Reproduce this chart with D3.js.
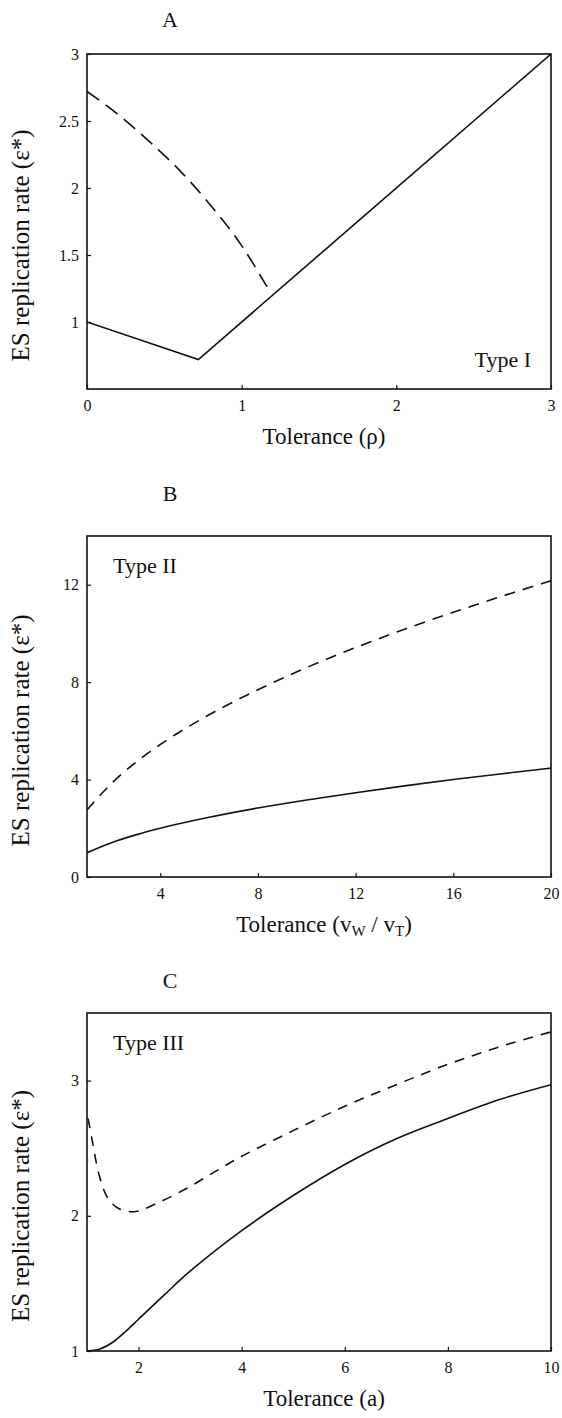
<!DOCTYPE html>
<html>
<head>
<meta charset="utf-8">
<script src="https://cdn.jsdelivr.net/npm/d3@7"></script>
<style>
  html, body { margin: 0; padding: 0; background: #fff; }
  svg { display: block; }
  text { font-family: "Liberation Serif", "Times New Roman", serif; fill: #111; }
</style>
</head>
<body>
<svg id="chart" width="562" height="1418"></svg>
<script>
// ---------- data ----------
const panelLetters = ["A", "B", "C"];
const typeLabels = ["Type I", "Type II", "Type III"];
const yTitle = "ES replication rate (\u03b5*)";

// Panel A: Type I
const aXTicks = [0, 1, 2, 3];
const aYTicks = [1, 1.5, 2, 2.5, 3];
const aSolidX = [0, 0.72, 3];
const aSolidY = [1, 0.72, 3];
const aDashX = [0, 0.2, 0.4, 0.6, 0.8, 1.0, 1.18];
const aDashY = [2.72, 2.55, 2.35, 2.13, 1.87, 1.57, 1.23];

// Panel B: Type II
const bXTicks = [4, 8, 12, 16, 20];
const bYTicks = [0, 4, 8, 12];
const bX = [1, 2, 3, 4, 6, 8, 10, 12, 14, 16, 18, 20];
const bSolidY = [1, 1.41, 1.73, 2, 2.45, 2.83, 3.16, 3.46, 3.74, 4, 4.24, 4.47];
const bDashY = [2.75, 3.84, 4.71, 5.44, 6.66, 7.69, 8.6, 9.42, 10.17, 10.87, 11.53, 12.16];

// Panel C: Type III
const cXTicks = [2, 4, 6, 8, 10];
const cYTicks = [1, 2, 3];
const cSolidX = [1, 1.25, 1.5, 1.75, 2, 2.5, 3, 4, 5, 6, 7, 8, 9, 10];
const cSolidY = [1, 1.015, 1.065, 1.145, 1.235, 1.415, 1.59, 1.89, 2.15, 2.38, 2.57, 2.72, 2.86, 2.97];
const cDashX = [1.02, 1.1, 1.23, 1.39, 1.59, 1.91, 2.34, 2.92, 3.5, 4, 5, 6, 7, 8, 9, 10];
const cDashY = [2.72, 2.56, 2.31, 2.14, 2.06, 2.03, 2.09, 2.2, 2.33, 2.44, 2.63, 2.81, 2.97, 3.12, 3.25, 3.36];

// ---------- layout ----------
const svg = d3.select("#chart");
const left = 87, right = 551;

const panels = [
  { letter: panelLetters[0], type: typeLabels[0], top: 54, bottom: 389, letterOff: 27,
    xDomain: [0, 3], yDomain: [0.5, 3], xTicks: aXTicks, yTicks: aYTicks,
    series: [
      { x: aSolidX, y: aSolidY, dash: null, curve: d3.curveLinear },
      { x: aDashX, y: aDashY, dash: "15,8", curve: d3.curveMonotoneX }
    ],
    typePos: "br" },
  { letter: panelLetters[1], type: typeLabels[1], top: 536, bottom: 877, letterOff: 35,
    xDomain: [1, 20], yDomain: [0, 14], xTicks: bXTicks, yTicks: bYTicks,
    series: [
      { x: bX, y: bSolidY, dash: null, curve: d3.curveMonotoneX },
      { x: bX, y: bDashY, dash: "11,8", curve: d3.curveMonotoneX }
    ],
    typePos: "tl" },
  { letter: panelLetters[2], type: typeLabels[2], top: 1013, bottom: 1351, letterOff: 25,
    xDomain: [1, 10], yDomain: [1, 3.5], xTicks: cXTicks, yTicks: cYTicks,
    series: [
      { x: cSolidX, y: cSolidY, dash: null, curve: d3.curveCatmullRom },
      { x: cDashX, y: cDashY, dash: "10,8", curve: d3.curveCatmullRom }
    ],
    typePos: "tl" }
];

panels.forEach((p, i) => {
  const x = d3.scaleLinear().domain(p.xDomain).range([left, right]);
  const y = d3.scaleLinear().domain(p.yDomain).range([p.bottom, p.top]);
  const g = svg.append("g");

  const clipId = "clip" + i;
  svg.append("clipPath").attr("id", clipId).append("rect")
    .attr("x", left).attr("y", p.top).attr("width", right - left).attr("height", p.bottom - p.top);

  p.series.forEach(s => {
    const pts = s.x.map((v, k) => [v, s.y[k]]);
    g.append("path")
      .attr("clip-path", `url(#${clipId})`)
      .attr("d", d3.line().x(d => x(d[0])).y(d => y(d[1])).curve(s.curve)(pts))
      .attr("fill", "none").attr("stroke", "#111").attr("stroke-width", 1.6)
      .attr("stroke-dasharray", s.dash);
  });

  const xAxis = d3.axisBottom(x).tickValues(p.xTicks).tickSize(-4).tickPadding(11).tickFormat(d3.format("~g"));
  const yAxis = d3.axisLeft(y).tickValues(p.yTicks).tickSize(-4).tickPadding(8).tickFormat(d3.format("~g"));
  const gx = g.append("g").attr("transform", `translate(0,${p.bottom})`).call(xAxis);
  const gy = g.append("g").attr("transform", `translate(${left},0)`).call(yAxis);
  [gx, gy].forEach(a => {
    a.select(".domain").remove();
    a.selectAll(".tick line").attr("stroke", "#111").attr("stroke-width", 1.2);
    a.selectAll("text").attr("font-size", 16).attr("font-family", "Liberation Serif").attr("fill", "#111");
  });

  g.append("rect").attr("x", left).attr("y", p.top)
    .attr("width", right - left).attr("height", p.bottom - p.top)
    .attr("fill", "none").attr("stroke", "#111").attr("stroke-width", 1.6);

  g.append("text").attr("x", 170).attr("y", p.top - p.letterOff)
    .attr("text-anchor", "middle").attr("font-size", 22).text(p.letter);

  if (p.typePos === "br") {
    g.append("text").attr("x", right - 20).attr("y", p.bottom - 22)
      .attr("text-anchor", "end").attr("font-size", 22).text(p.type);
  } else {
    g.append("text").attr("x", left + 26).attr("y", p.top + 37)
      .attr("text-anchor", "start").attr("font-size", 22).text(p.type);
  }

  const cy = (p.top + p.bottom) / 2 + 24;
  g.append("text").attr("transform", `translate(29,${cy}) rotate(-90)`)
    .attr("text-anchor", "middle").attr("font-size", 25).text(yTitle);

  const xt = g.append("text").attr("x", (left + right) / 2 + 5).attr("y", p.bottom + 55)
    .attr("text-anchor", "middle").attr("font-size", 23);
  if (i === 0) {
    xt.text("Tolerance (\u03c1)");
  } else if (i === 1) {
    xt.append("tspan").text("Tolerance (v");
    xt.append("tspan").attr("font-size", 15).attr("dy", 4).text("W");
    xt.append("tspan").attr("dy", -4).text(" / v");
    xt.append("tspan").attr("font-size", 15).attr("dy", 4).text("T");
    xt.append("tspan").attr("dy", -4).text(")");
  } else {
    xt.text("Tolerance (a)");
  }
});
</script>
</body>
</html>
